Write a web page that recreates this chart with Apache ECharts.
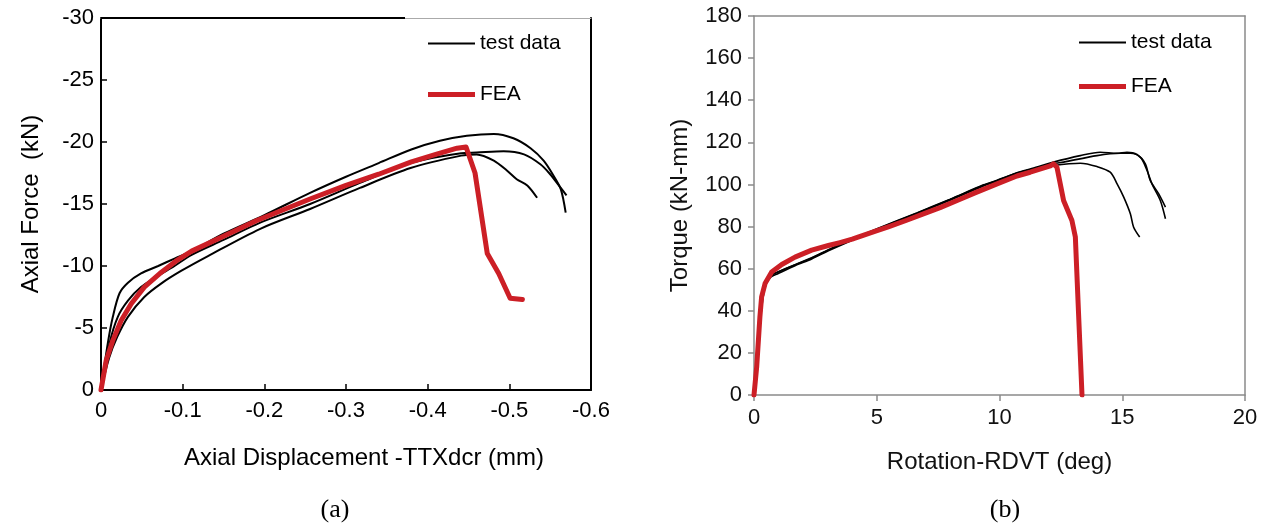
<!DOCTYPE html>
<html>
<head>
<meta charset="utf-8">
<script src="https://cdn.jsdelivr.net/npm/echarts/dist/echarts.min.js"></script>
<style>
html,body{margin:0;padding:0;background:#fff;}
#chart{width:1264px;height:528px;}
</style>
</head>
<body>
<div id="chart"></div>
<script>
// ---- Chart (a): Axial displacement (mm) vs axial force (kN) ----
const axialTest1 = [[0,0],[-0.0083,-3.75],[-0.0145,-5.9],[-0.0227,-7.8],[-0.033,-8.65],[-0.049,-9.4],[-0.07,-10.0],[-0.09,-10.6],[-0.111,-11.2],[-0.15,-12.6],[-0.2,-14.1],[-0.256,-15.9],[-0.3,-17.2],[-0.34,-18.3],[-0.38,-19.4],[-0.415,-20.1],[-0.448,-20.5],[-0.481,-20.65],[-0.505,-20.3],[-0.526,-19.5],[-0.542,-18.5],[-0.554,-17.3],[-0.563,-16.2],[-0.569,-14.3]];
const axialTest2 = [[0,0],[-0.0104,-3.75],[-0.0206,-5.9],[-0.033,-7.2],[-0.049,-8.3],[-0.07,-9.2],[-0.09,-10.0],[-0.111,-10.9],[-0.15,-12.1],[-0.195,-13.5],[-0.256,-15.0],[-0.317,-16.7],[-0.379,-18.3],[-0.441,-19.1],[-0.46,-19.15],[-0.493,-19.25],[-0.518,-19.0],[-0.538,-18.2],[-0.55,-17.4],[-0.563,-16.3],[-0.57,-15.7]];
const axialTest3 = [[0,0],[-0.01,-2.6],[-0.02,-4.3],[-0.033,-5.9],[-0.053,-7.5],[-0.074,-8.6],[-0.098,-9.6],[-0.131,-10.8],[-0.195,-13.0],[-0.256,-14.6],[-0.317,-16.3],[-0.379,-17.9],[-0.441,-18.9],[-0.46,-19.0],[-0.481,-18.5],[-0.497,-17.7],[-0.509,-17.0],[-0.522,-16.5],[-0.534,-15.5]];
const axialFEA = [[0,0],[-0.0064,-2.4],[-0.0145,-4.0],[-0.0247,-5.6],[-0.037,-6.96],[-0.053,-8.3],[-0.074,-9.5],[-0.094,-10.5],[-0.111,-11.2],[-0.15,-12.4],[-0.19,-13.65],[-0.256,-15.4],[-0.3,-16.5],[-0.34,-17.4],[-0.38,-18.4],[-0.41,-19.0],[-0.436,-19.5],[-0.447,-19.6],[-0.458,-17.5],[-0.473,-11.0],[-0.487,-9.4],[-0.501,-7.4],[-0.516,-7.3]];

// ---- Chart (b): Rotation (deg) vs torque (kN-mm) ----
const torqueTest1 = [[0,0],[0.15,20],[0.3,42],[0.45,52],[0.65,56.5],[0.9,58],[1.67,61.8],[2.35,65],[3.03,68.8],[3.7,72.3],[5.06,79],[6.63,86.3],[7.99,92.8],[9.35,99.6],[9.9,101.8],[10.71,105.5],[11.25,107.3],[12.2,110.6],[13.29,113.7],[14.1,115.3],[14.79,114.8],[15.19,115.3],[15.6,114.2],[15.94,109.8],[16.14,101.9],[16.48,95.6],[16.76,89.2]];
const torqueTest2 = [[0,0],[0.16,20],[0.32,42],[0.47,52],[0.68,56],[0.95,57.5],[1.67,61.4],[2.35,64.6],[3.03,68.5],[3.7,72],[5.06,78.7],[6.63,86],[7.99,92.5],[9.35,99.3],[9.9,101.5],[10.71,105.2],[11.25,107],[12.2,109.8],[12.61,110.6],[13.97,113.7],[14.92,114.8],[15.33,114.8],[15.74,112.9],[16.01,106.6],[16.21,100.3],[16.55,92.4],[16.76,83.7]];
const torqueTest3 = [[0,0],[0.15,21],[0.3,43],[0.45,52.5],[0.66,56.8],[0.92,58.2],[1.67,61.9],[2.35,65.2],[3.03,69],[3.7,72.5],[5.06,79.2],[6.63,86.5],[7.99,93],[9.35,99.8],[9.9,102],[10.71,105.4],[11.25,107],[12.2,109],[13.29,110.1],[13.97,108.5],[14.51,105.8],[14.79,100.3],[15.06,94],[15.33,86.1],[15.46,79.8],[15.71,75.0]];
const torqueFEA = [[0,0],[0.11,13.4],[0.24,37],[0.31,46.6],[0.45,52.9],[0.72,58.4],[1.13,62],[1.67,65.5],[2.35,68.8],[3.03,71],[3.5,72.4],[4.0,74],[4.86,77.5],[5.5,80],[6.22,83],[6.9,86],[7.58,89],[8.3,92.5],[9.0,96],[9.9,100.3],[10.71,104],[11.25,105.8],[12.07,108.8],[12.2,109.8],[12.34,108.2],[12.61,92.4],[12.95,82.9],[13.09,75.0],[13.22,38.7],[13.36,0]];

// ---- Text ----
const legendNames = ['test data', 'FEA'];
const captions = ['(a)', '(b)'];
const axisNamesA = {x: 'Axial Displacement -TTXdcr (mm)', y: 'Axial Force  (kN)'};
const axisNamesB = {x: 'Rotation-RDVT (deg)', y: 'Torque (kN-mm)'};

const FONT = '"Liberation Sans", Arial, sans-serif';
const RED = '#cc1f26';
const GRAY = '#8a8a8a';

const chart = echarts.init(document.getElementById('chart'), null, {renderer: 'canvas'});

function testSeries(data, xi, yi, w) {
  return {name: legendNames[0], type: 'line', data: data, xAxisIndex: xi, yAxisIndex: yi,
    symbol: 'none', smooth: 0.3,
    lineStyle: {color: '#000', width: w}, itemStyle: {color: '#000'}, z: 2};
}
function feaSeries(data, xi, yi) {
  return {name: legendNames[1], type: 'line', data: data, xAxisIndex: xi, yAxisIndex: yi,
    symbol: 'none', smooth: false,
    lineStyle: {color: RED, width: 5, cap: 'round', join: 'round'}, itemStyle: {color: RED}, z: 3};
}

const hidden = {axisLabel: {show: false}, axisTick: {show: false}, splitLine: {show: false}};

function legendData() {
  return [
    {name: legendNames[0], icon: 'path://M0,0 L47,0 L47,2 L0,2 Z', itemStyle: {color: '#000'}},
    {name: legendNames[1], icon: 'path://M0,0 L47,0 L47,5 L0,5 Z', itemStyle: {color: RED}}
  ];
}

const option = {
  animation: false,
  backgroundColor: '#fff',
  title: [
    {text: captions[0], left: 330, top: 492, textAlign: 'center',
     textStyle: {fontFamily: '"Liberation Serif", "Times New Roman", serif', fontWeight: 'normal', fontSize: 26, color: '#000'}},
    {text: captions[1], left: 1000, top: 492, textAlign: 'center',
     textStyle: {fontFamily: '"Liberation Serif", "Times New Roman", serif', fontWeight: 'normal', fontSize: 26, color: '#000'}}
  ],
  legend: [
    {data: legendData(), left: 428, top: 33, padding: 0, orient: 'vertical', itemWidth: 47, itemHeight: 24, itemGap: 30,
     symbolKeepAspect: true, selectedMode: false, textStyle: {fontFamily: FONT, fontSize: 21, color: '#000'}},
    {data: legendData(), left: 1079, top: 32, padding: 0, orient: 'vertical', itemWidth: 47, itemHeight: 24, itemGap: 23,
     symbolKeepAspect: true, selectedMode: false, textStyle: {fontFamily: FONT, fontSize: 21, color: '#000'}}
  ],
  grid: [
    {left: 101, top: 18, width: 490, height: 372},
    {left: 754, top: 16, width: 491, height: 379}
  ],
  xAxis: [
    {gridIndex: 0, type: 'value', min: -0.6, max: 0, interval: 0.1, inverse: true,
     axisLine: {onZero: false, lineStyle: {color: '#000', width: 2}},
     axisTick: {inside: true, length: 6, lineStyle: {color: '#000', width: 1.5}},
     axisLabel: {color: '#000', fontSize: 22, fontFamily: FONT, margin: 10},
     splitLine: {show: false},
     name: axisNamesA.x, nameLocation: 'middle', nameGap: 56,
     nameTextStyle: {color: '#000', fontSize: 24, fontFamily: FONT, padding: [0, 0, 0, 36]}},
    Object.assign({gridIndex: 0, type: 'value', min: -0.6, max: 0, inverse: true, position: 'top',
     axisLine: {onZero: false, lineStyle: {color: '#aaa', width: 1}}}, hidden),
    {gridIndex: 1, type: 'value', min: 0, max: 20, interval: 5,
     axisLine: {onZero: false, lineStyle: {color: GRAY, width: 1.5}},
     axisTick: {inside: false, length: 6, lineStyle: {color: GRAY, width: 1.5}},
     axisLabel: {color: '#111', fontSize: 22, fontFamily: FONT, margin: 12},
     splitLine: {show: false},
     name: axisNamesB.x, nameLocation: 'middle', nameGap: 55,
     nameTextStyle: {color: '#111', fontSize: 24, fontFamily: FONT}},
    Object.assign({gridIndex: 1, type: 'value', min: 0, max: 20, position: 'top',
     axisLine: {onZero: false, lineStyle: {color: GRAY, width: 1.5}}}, hidden)
  ],
  yAxis: [
    {gridIndex: 0, type: 'value', min: -30, max: 0, interval: 5, inverse: true,
     axisLine: {onZero: false, lineStyle: {color: '#000', width: 2}},
     axisTick: {inside: true, length: 6, lineStyle: {color: '#000', width: 1.5}},
     axisLabel: {color: '#000', fontSize: 22, fontFamily: FONT, margin: 7},
     splitLine: {show: false},
     name: axisNamesA.y, nameLocation: 'middle', nameGap: 58,
     nameTextStyle: {color: '#000', fontSize: 24, fontFamily: FONT}},
    Object.assign({gridIndex: 0, type: 'value', min: -30, max: 0, inverse: true, position: 'right',
     axisLine: {onZero: false, lineStyle: {color: '#000', width: 2}}}, hidden),
    {gridIndex: 1, type: 'value', min: 0, max: 180, interval: 20,
     axisLine: {onZero: false, lineStyle: {color: GRAY, width: 1.5}},
     axisTick: {inside: false, length: 6, lineStyle: {color: GRAY, width: 1.5}},
     axisLabel: {color: '#111', fontSize: 22, fontFamily: FONT, margin: 12},
     splitLine: {show: false},
     name: axisNamesB.y, nameLocation: 'middle', nameGap: 62,
     nameTextStyle: {color: '#111', fontSize: 24, fontFamily: FONT}},
    Object.assign({gridIndex: 1, type: 'value', min: 0, max: 180, position: 'right',
     axisLine: {onZero: false, lineStyle: {color: GRAY, width: 1.5}}}, hidden)
  ],
  graphic: [
    {type: 'line', shape: {x1: 101, y1: 18, x2: 405, y2: 18}, style: {stroke: '#000', lineWidth: 2}, z: 10}
  ],
  series: [
    testSeries(axialTest1, 0, 0, 2),
    testSeries(axialTest2, 0, 0, 2),
    testSeries(axialTest3, 0, 0, 2),
    feaSeries(axialFEA, 0, 0),
    testSeries(torqueTest1, 2, 2, 1.6),
    testSeries(torqueTest2, 2, 2, 1.6),
    testSeries(torqueTest3, 2, 2, 1.6),
    feaSeries(torqueFEA, 2, 2)
  ]
};
chart.setOption(option);
</script>
</body>
</html>
